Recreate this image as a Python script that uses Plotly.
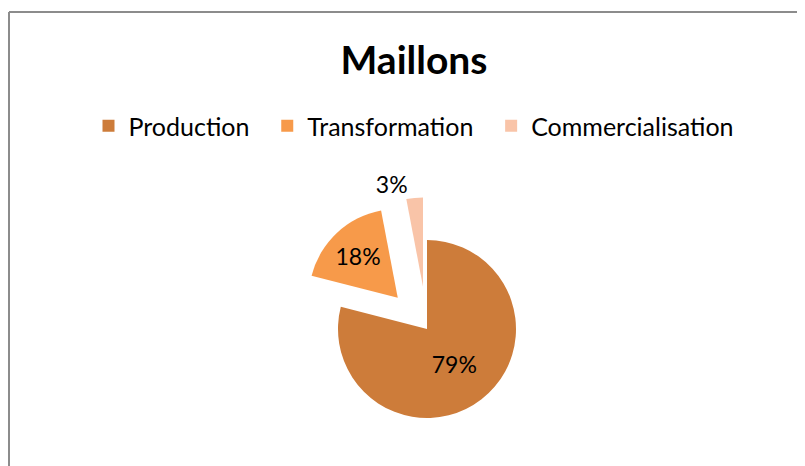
import plotly.graph_objects as go

# data
labels = ["Production\u00a0\u00a0", "Transformation\u00a0\u00a0", "Commercialisation"]
values = [79, 18, 3]
colors = ["#CD7C3A", "#F79A4A", "#F9C4A8"]
pulls = [0, 0.48, 0.48]
text_pos = ["inside", "inside", "outside"]

# page body has an 8px margin, so the figure is sized to end at the window edge
W, H = 797, 458
OFF = 8
FONT = "Lato, 'Open Sans', sans-serif"


def px_x(v):
    return (v - OFF) / W


def px_y(v):
    return 1 - (v - OFF) / H


cx, cy, r, pull_max = 427, 329, 89, max(pulls)
half = r * (1 + pull_max)

fig = go.Figure(go.Pie(
    labels=labels,
    values=values,
    marker=dict(colors=colors, line=dict(width=0)),
    pull=pulls,
    sort=False,
    direction="clockwise",
    rotation=0,
    texttemplate="%{percent:.0%}",
    textposition=text_pos,
    insidetextorientation="horizontal",
    textfont=dict(family=FONT, size=23, color="#000000"),
    domain=dict(x=[px_x(cx) - 0.3, px_x(cx) + 0.3],
                y=[px_y(cy + half), px_y(cy - half)]),
    hoverinfo="label+percent",
))

# chart frame (left + top edges visible in the crop)
fig.add_shape(type="line", xref="paper", yref="paper",
              x0=px_x(9), x1=1.05, y0=px_y(12), y1=px_y(12),
              line=dict(color="#8C8C8C", width=2))
fig.add_shape(type="line", xref="paper", yref="paper",
              x0=px_x(9), x1=px_x(9), y0=-0.05, y1=px_y(12),
              line=dict(color="#8C8C8C", width=2))

fig.update_layout(
    width=W, height=H,
    margin=dict(l=0, r=0, t=0, b=0, autoexpand=False),
    paper_bgcolor="white",
    plot_bgcolor="white",
    font=dict(family=FONT, color="#000000"),
    title=dict(text="<b>Maillons</b>", x=px_x(414), xanchor="center",
               y=px_y(60), yanchor="middle",
               font=dict(family=FONT, size=39, color="#000000")),
    showlegend=True,
    legend=dict(orientation="h", x=px_x(414), xanchor="center",
                y=px_y(126), yanchor="middle",
                font=dict(family=FONT, size=25, color="#000000"),
                traceorder="normal"),
)

fig.write_html("out.html")
